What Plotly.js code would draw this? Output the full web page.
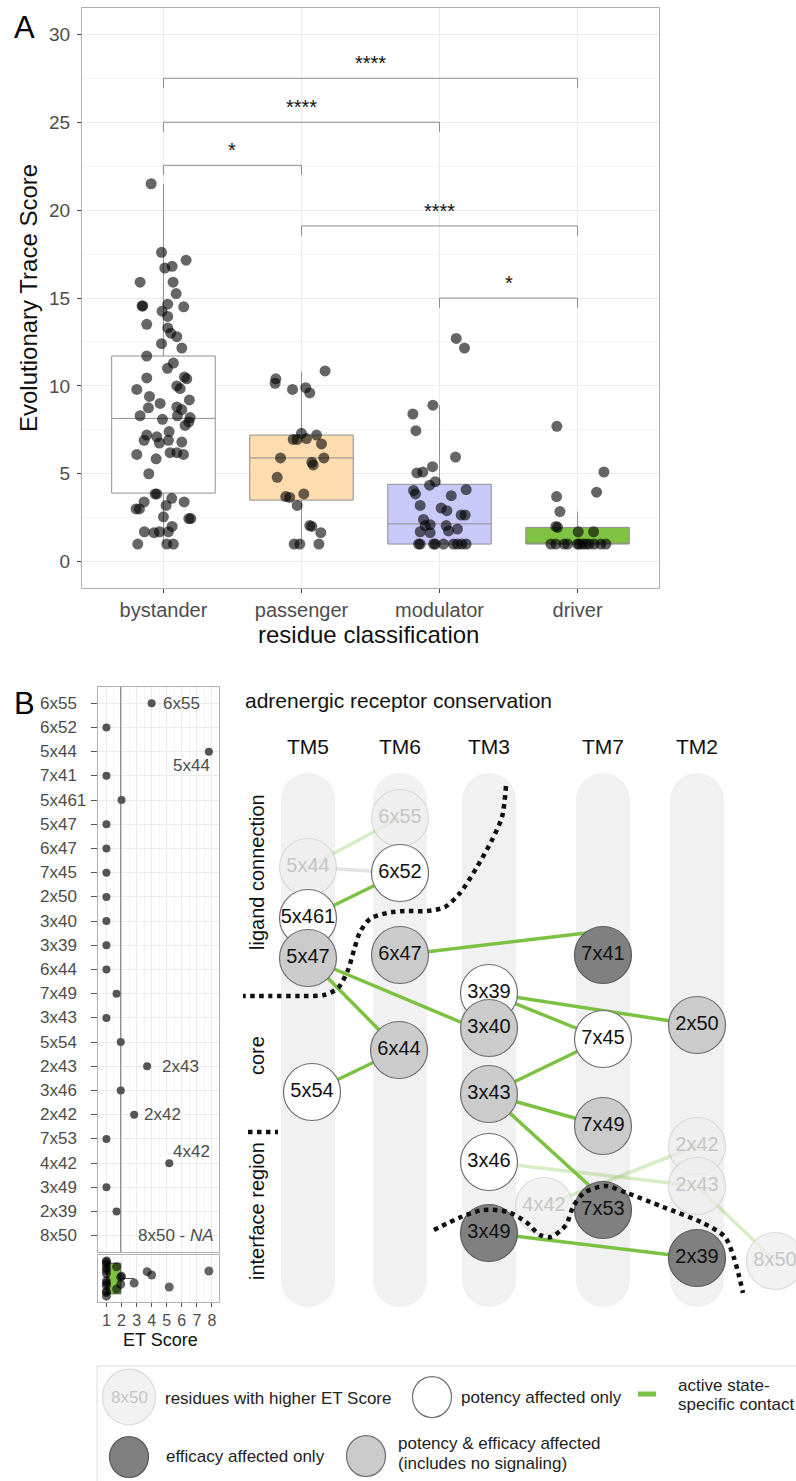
<!DOCTYPE html>
<html><head><meta charset="utf-8">
<script src="https://cdn.plot.ly/plotly-3.0.1.min.js"></script>
<style>html,body{margin:0;padding:0;background:#fff}#chart{width:796px;height:1481px}</style>
</head><body><div id="chart"></div>
<script>
const W = 796, H = 1481;
const FONT = 'Liberation Sans, Arial, Helvetica, sans-serif';

// ---------------- Panel A data ----------------
const CATEGORIES = ['bystander', 'passenger', 'modulator', 'driver'];
const BOX_Q1     = [3.9, 3.5, 1.0, 1.0];
const BOX_MEDIAN = [8.15, 5.9, 2.15, 1.0];
const BOX_Q3     = [11.7, 7.2, 4.4, 1.95];
const BOX_LOWER  = [1.0, 1.0, 1.0, 1.0];
const BOX_UPPER  = [21.5, 10.8, 8.9, 2.85];

const BYSTANDER_ET = [21.5,17.6,17.15,16.7,16.8,15.9,15.9,15.25,14.55,14.55,14.65,14.5,14.25,13.95,13.5,13.3,13.0,12.8,12.4,12.15,11.7,11.3,11.0,10.45,10.5,10.4,10.0,9.85,9.8,9.2,9.4,9.0,8.75,8.8,8.65,8.3,8.1,8.3,8.2,7.95,7.75,7.4,7.2,7.1,6.9,6.9,6.75,6.8,6.1,6.2,6.2,6.1,5.85,5.0,3.85,3.85,3.6,3.4,3.4,3.2,3.0,3.0,2.55,2.45,2.45,1.7,1.65,1.7,2.0,1.7,1.0,1.0,1.0];
const BYSTANDER_JIT = [-0.089,-0.014,0.164,0.010,0.063,-0.169,0.070,0.092,-0.155,-0.150,0.031,0.147,-0.010,0.031,-0.121,0.031,0.053,0.097,-0.014,0.133,-0.121,0.072,0.029,-0.121,0.152,0.169,0.097,0.121,-0.193,0.188,-0.101,-0.024,-0.109,0.097,0.133,-0.169,-0.007,0.101,0.193,0.184,0.157,0.041,-0.121,-0.048,-0.140,0.036,-0.029,0.133,-0.193,0.048,0.097,0.145,-0.053,-0.106,-0.060,-0.048,0.060,-0.140,0.150,0.019,-0.198,-0.174,0.0,0.184,0.198,-0.138,-0.068,-0.029,0.063,0.036,-0.186,0.024,0.072];
const PASSENGER_ET = [10.4,10.15,10.85,9.8,9.9,9.6,7.3,6.95,6.95,7.2,7.0,6.7,5.9,5.9,5.65,5.5,4.8,3.7,3.65,3.85,3.2,2.0,2.05,1.65,1.0,1.0,1.0];
const PASSENGER_JIT = [-0.186,-0.191,0.171,-0.065,0.031,0.060,0.0,-0.060,-0.031,0.109,0.036,0.145,-0.152,0.162,0.075,0.085,-0.176,-0.114,-0.085,0.017,-0.031,0.075,0.060,0.140,-0.053,-0.012,0.126];
const MODULATOR_ET = [12.7,12.15,8.9,8.4,7.45,5.95,5.05,5.1,5.4,4.55,4.35,4.05,4.1,3.75,3.85,3.2,3.05,2.9,2.65,2.65,2.4,2.05,2.05,1.85,1.75,1.7,1.65,2.1,1.0,1.0,1.0,1.0,1.0,1.0,1.0,1.0,1.0];
const MODULATOR_JIT = [0.121,0.181,-0.048,-0.193,-0.171,0.116,-0.164,-0.121,-0.051,-0.031,-0.072,-0.188,0.193,0.085,-0.174,-0.140,0.012,0.053,0.157,0.186,-0.116,-0.104,0.048,0.130,0.065,-0.140,-0.068,-0.068,-0.152,-0.140,-0.043,-0.031,0.029,0.101,0.130,0.162,0.193];
const DRIVER_ET = [7.7,5.1,3.95,3.7,2.85,2.0,1.95,1.7,1.7,1.0,1.0,1.0,1.0,1.0,1.0,1.0,1.0,1.0,1.0,1.0,1.0];
const DRIVER_JIT = [-0.150,0.191,0.138,-0.152,-0.128,-0.157,-0.145,0.005,0.116,-0.193,-0.157,-0.097,-0.072,0.012,0.036,0.060,0.085,0.169,0.205,0.0,0.121];

const BRACKET_FROM  = [0, 0, 0, 1, 2];
const BRACKET_TO    = [1, 2, 3, 3, 3];
const BRACKET_Y     = [22.55, 25.0, 27.5, 19.1, 15.0];
const BRACKET_LABEL = ['*', '****', '****', '****', '*'];

// ---------------- Panel B data ----------------
const ET_RESIDUES = ['6x55','6x52','5x44','7x41','5x461','5x47','6x47','7x45','2x50','3x40','3x39','6x44','7x49','3x43','5x54','2x43','3x46','2x42','7x53','4x42','3x49','2x39','8x50'];
const ET_SCORE    = [4.0,1.0,7.8,1.0,2.0,1.0,1.0,1.0,1.0,1.0,1.0,1.0,1.67,1.0,1.95,3.7,1.95,2.84,1.0,5.17,1.0,1.67,null];
const ET_BOX_JIT  = [0.15,0.7,0.32,-0.6,0.1,0.45,-0.3,0.2,-0.75,0.6,-0.1,0.35,-0.45,-0.55,0.05,0.29,-0.25,-0.19,0.75,-0.36,-0.2,0.5,null];
const ET_CUTOFF = 1.95;
const ET_TICKS = [1,2,3,4,5,6,7,8];
// summary of the ET-score box (same residues as the driver class)
const ET_BOX_STATS = {q1:1.0, median:1.0, q3:1.95, lower:1.0, upper:2.84};

const NODE_RESIDUES = ['6x55','5x44','6x52','5x461','7x41','6x47','5x47','3x39','2x50','3x40','7x45','6x44','5x54','3x43','7x49','2x42','3x46','2x43','4x42','7x53','3x49','2x39','8x50'];
const NODE_CLASS = ['faded','faded','potency','potency','efficacy','both','both','potency','both','both','potency','both','potency','both','both','faded','potency','faded','faded','efficacy','efficacy','efficacy','faded'];
const EDGE_FROM = ['5x44','5x44','5x461','6x47','5x47','5x47','6x44','3x39','3x39','7x45','3x43','3x43','3x46','4x42','2x43','3x49'];
const EDGE_TO   = ['6x55','6x52','6x52','7x41','3x40','6x44','5x54','2x50','7x45','3x43','7x49','7x53','2x43','2x42','8x50','2x39'];
const EDGE_TYPE = ['faded','gray','active','active','active','active','active','active','active','active','active','active','faded','faded','faded','active'];
const TM_LABELS = ['TM5','TM6','TM3','TM7','TM2'];

// ---------------- layout geometry (pixels) ----------------
const TM_X = [308, 400, 489, 603, 697];
const NODE_X = [400,308,400,308,603,400,308,489,697,489,603,399,312,489,603,697,489,697,544,603,489,697,775];
const NODE_Y = [818,867,873,918,955,955,958,993,1025,1028,1039,1050,1092,1094,1126,1146,1162,1186,1206,1210,1233,1258,1261];
const EDGE_END_DY = [0,0,0,-24,6,0,0,0,0,0,0,-12,0,0,0,0];
const DOT1_X = [506,502,492,477,460,445,427,405,387,370,360,354,348,338,324,300,270,243];
const DOT1_Y = [786,817,840,867,893,907,911,911,913,919,932,950,970,988,995,996,996,996];
const DOT2_X = [434,461,483,508,526,540,551,566,573,584,605,627,663,703,725,734,739,743];
const DOT2_Y = [1230,1217,1210,1212,1222,1235,1237,1225,1207,1193,1186,1193,1207,1223,1237,1258,1276,1293];

const GREEN = '#7cc242';
const CLASS_FILL = {faded:'rgba(238,238,238,0.75)', potency:'#ffffff', efficacy:'#808080', both:'#cbcbcb'};
const CLASS_LINE = {faded:'rgba(205,205,205,0.7)', potency:'#6e6e6e', efficacy:'#5a5a5a', both:'#6e6e6e'};
const CLASS_TEXT = {faded:'#c6c6c6', potency:'#111', efficacy:'#111', both:'#111'};
const BOX_FILL = ['#ffffff', '#fddcad', '#c9c9fa', '#80c342'];

const traces = [];
const annotations = [];
const shapes = [];

// ---------- Panel A ----------
CATEGORIES.forEach((c, i) => {
  traces.push({type:'box', x:[i], q1:[BOX_Q1[i]], median:[BOX_MEDIAN[i]], q3:[BOX_Q3[i]],
    lowerfence:[BOX_LOWER[i]], upperfence:[BOX_UPPER[i]], width:0.75, whiskerwidth:0,
    fillcolor:BOX_FILL[i], line:{color:'#8f8f8f', width:1}, boxpoints:false,
    xaxis:'x', yaxis:'y', hoverinfo:'skip'});
});
const groups = [[BYSTANDER_ET,BYSTANDER_JIT],[PASSENGER_ET,PASSENGER_JIT],[MODULATOR_ET,MODULATOR_JIT],[DRIVER_ET,DRIVER_JIT]];
groups.forEach((g, i) => {
  traces.push({type:'scatter', mode:'markers', x:g[1].map(j => i + j), y:g[0],
    marker:{size:11, color:'rgba(0,0,0,0.6)'}, xaxis:'x', yaxis:'y', hoverinfo:'skip'});
});
BRACKET_Y.forEach((h, k) => {
  const a = BRACKET_FROM[k], b = BRACKET_TO[k];
  traces.push({type:'scatter', mode:'lines', x:[a,a,b,b], y:[h-0.55,h,h,h-0.55],
    line:{color:'#8c8c8c', width:1}, xaxis:'x', yaxis:'y', hoverinfo:'skip'});
  annotations.push({xref:'x', yref:'y', x:(a+b)/2, y:h, yshift:15, text:BRACKET_LABEL[k],
    showarrow:false, font:{family:FONT, size:20, color:'#111'}, xanchor:'center', yanchor:'middle'});
});

// ---------- Panel B: ET dot plot ----------
const etIdx = ET_RESIDUES.map((r, i) => i);
traces.push({type:'scatter', mode:'lines', x:[ET_CUTOFF, ET_CUTOFF], y:[-0.7, ET_RESIDUES.length - 0.3],
  line:{color:'#6f6f6f', width:1}, xaxis:'x2', yaxis:'y2', hoverinfo:'skip'});
traces.push({type:'scatter', mode:'markers', x:ET_SCORE, y:etIdx,
  marker:{size:8, color:'#555555'}, xaxis:'x2', yaxis:'y2', hoverinfo:'skip'});
ET_RESIDUES.forEach((r, i) => {
  annotations.push({xref:'x4', yref:'y2', x:38, y:i, text:r, showarrow:false, xanchor:'left', yanchor:'middle',
    font:{family:FONT, size:17, color:'#4d4d4d'}});
});
const labelFont = {family:FONT, size:17, color:'#4d4d4d'};
const lab = (r, opts) => {
  const i = ET_RESIDUES.indexOf(r);
  annotations.push(Object.assign({xref:'x2', yref:'y2', x:ET_SCORE[i], y:i, text:r, showarrow:false,
    yanchor:'middle', font:labelFont}, opts));
};
lab('6x55', {xanchor:'left', xshift:9});
lab('5x44', {xanchor:'right', xshift:3, yshift:-14});
lab('2x43', {xanchor:'left', xshift:13});
lab('2x42', {xanchor:'left', xshift:8});
lab('4x42', {xanchor:'left', xshift:2, yshift:12});
annotations.push({xref:'x2', yref:'y2', x:8.3, y:ET_RESIDUES.indexOf('8x50'), text:'8x50 - <i>NA</i>',
  showarrow:false, xanchor:'right', yanchor:'middle', font:labelFont});

// ---------- Panel B: ET box ----------
const etVals = ET_SCORE.filter(v => v !== null);
const etJit = ET_BOX_JIT.filter(v => v !== null);
traces.push({type:'box', orientation:'h', y:[0], q1:[ET_BOX_STATS.q1], median:[ET_BOX_STATS.median], q3:[ET_BOX_STATS.q3],
  lowerfence:[ET_BOX_STATS.lower], upperfence:[ET_BOX_STATS.upper], width:1.3, whiskerwidth:0, boxpoints:false,
  fillcolor:'#80c342', line:{color:'#555', width:1}, xaxis:'x3', yaxis:'y3', hoverinfo:'skip'});
traces.push({type:'scatter', mode:'markers', x:etVals, y:etJit,
  marker:{size:9, color:'rgba(0,0,0,0.6)'}, xaxis:'x3', yaxis:'y3', hoverinfo:'skip'});

// ---------- Panel B: network ----------
TM_X.forEach((x, i) => {
  const top = 773, bot = 1307, r = 27;
  shapes.push({type:'rect', xref:'x4', yref:'y4', x0:x-r, x1:x+r, y0:top+r, y1:bot-r, fillcolor:'#f1f1f1', line:{width:0}, layer:'below'});
  shapes.push({type:'circle', xref:'x4', yref:'y4', x0:x-r, x1:x+r, y0:top, y1:top+2*r, fillcolor:'#f1f1f1', line:{width:0}, layer:'below'});
  shapes.push({type:'circle', xref:'x4', yref:'y4', x0:x-r, x1:x+r, y0:bot-2*r, y1:bot, fillcolor:'#f1f1f1', line:{width:0}, layer:'below'});
  annotations.push({xref:'x4', yref:'y4', x:x, y:746, text:TM_LABELS[i], showarrow:false,
    font:{family:FONT, size:21, color:'#111'}, xanchor:'center', yanchor:'middle'});
});
const EDGE_COLOR = {active:GREEN, faded:'rgba(124,194,66,0.3)', gray:'#e3e3e3'};
EDGE_FROM.forEach((f, k) => {
  const a = NODE_RESIDUES.indexOf(f), b = NODE_RESIDUES.indexOf(EDGE_TO[k]);
  traces.push({type:'scatter', mode:'lines', x:[NODE_X[a], NODE_X[b]], y:[NODE_Y[a], NODE_Y[b] + EDGE_END_DY[k]],
    line:{color:EDGE_COLOR[EDGE_TYPE[k]], width:3.5}, xaxis:'x4', yaxis:'y4', hoverinfo:'skip'});
});
traces.push({type:'scatter', mode:'markers+text', x:NODE_X, y:NODE_Y, text:NODE_RESIDUES,
  textposition:'middle center',
  textfont:{family:FONT, size:20, color:NODE_CLASS.map(c => CLASS_TEXT[c])},
  marker:{size:57, color:NODE_CLASS.map(c => CLASS_FILL[c]), line:{width:1.2, color:NODE_CLASS.map(c => CLASS_LINE[c])}},
  xaxis:'x4', yaxis:'y4', hoverinfo:'skip', cliponaxis:false});
[[DOT1_X, DOT1_Y], [DOT2_X, DOT2_Y], [[248, 278], [1132, 1132]]].forEach(d => {
  traces.push({type:'scatter', mode:'lines', x:d[0], y:d[1],
    line:{color:'#111', width:4.5, dash:'dot', shape:'spline', smoothing:0.8},
    xaxis:'x4', yaxis:'y4', hoverinfo:'skip'});
});
annotations.push({xref:'x4', yref:'y4', x:243, y:700, text:'adrenergic receptor conservation', showarrow:false,
  xanchor:'left', yanchor:'middle', font:{family:FONT, size:21, color:'#111'}});
[['ligand connection', 872], ['core', 1056], ['interface region', 1211]].forEach(s => {
  annotations.push({xref:'x4', yref:'y4', x:257, y:s[1], text:s[0], textangle:-90, showarrow:false,
    xanchor:'center', yanchor:'middle', font:{family:FONT, size:20, color:'#111'}});
});

// ---------- Legend ----------
shapes.push({type:'rect', xref:'x4', yref:'y4', x0:97, x1:805, y0:1366, y1:1495, line:{color:'#dcdcdc', width:1}, fillcolor:'rgba(0,0,0,0)', layer:'below'});
const circ = (cx, cy, r, fill, line) => shapes.push({type:'circle', xref:'x4', yref:'y4', x0:cx-r, x1:cx+r, y0:cy-r*1.05, y1:cy+r*1.05, fillcolor:fill, line:{color:line, width:1.2}, layer:'above'});
circ(129, 1397, 26.5, CLASS_FILL.faded, CLASS_LINE.faded);
circ(432, 1397, 19.5, CLASS_FILL.potency, CLASS_LINE.potency);
circ(129, 1457, 19.5, CLASS_FILL.efficacy, CLASS_LINE.efficacy);
circ(366, 1456, 19.5, CLASS_FILL.both, CLASS_LINE.both);
shapes.push({type:'line', xref:'x4', yref:'y4', x0:638, x1:656, y0:1394, y1:1394, line:{color:GREEN, width:5}, layer:'above'});
const legTxt = (x, y, t, col) => annotations.push({xref:'x4', yref:'y4', x:x, y:y, text:t, showarrow:false,
  xanchor:'left', yanchor:'middle', font:{family:FONT, size:17, color:col || '#222'}});
annotations.push({xref:'x4', yref:'y4', x:129, y:1397, text:'8x50', showarrow:false, xanchor:'center', yanchor:'middle',
  font:{family:FONT, size:17, color:'#c6c6c6'}});
legTxt(163, 1398, 'residues with higher ET Score');
legTxt(459, 1397, 'potency affected only');
legTxt(676, 1385, 'active state-');
legTxt(676, 1404, 'specific contact');
legTxt(164, 1456, 'efficacy affected only');
legTxt(396, 1443, 'potency &amp; efficacy affected');
legTxt(396, 1463, '(includes no signaling)');

// ---------- titles & panel letters ----------
annotations.push({xref:'x4', yref:'y4', x:12, y:27, text:'A', showarrow:false, xanchor:'left', yanchor:'middle', font:{family:FONT, size:31, color:'#000'}});
annotations.push({xref:'x4', yref:'y4', x:12, y:703, text:'B', showarrow:false, xanchor:'left', yanchor:'middle', font:{family:FONT, size:31, color:'#000'}});
annotations.push({xref:'x4', yref:'y4', x:28, y:298, text:'Evolutionary Trace Score', textangle:-90, showarrow:false, xanchor:'center', yanchor:'middle', font:{family:FONT, size:24, color:'#111'}});
annotations.push({xref:'x4', yref:'y4', x:368, y:634, text:'residue classification', showarrow:false, xanchor:'center', yanchor:'middle', font:{family:FONT, size:24, color:'#111'}});
annotations.push({xref:'x4', yref:'y4', x:160, y:1340, text:'ET Score', showarrow:false, xanchor:'center', yanchor:'middle', font:{family:FONT, size:18, color:'#111'}});

const dom = (a, b) => [a / W, b / W];
const vdom = (top, bot) => [1 - bot / H, 1 - top / H];
const frame = {showline:true, mirror:true, linecolor:'#b0b0b0', linewidth:1, zeroline:false, fixedrange:true};

const layout = {
  width:W, height:H, margin:{l:0, r:0, t:0, b:0}, showlegend:false,
  paper_bgcolor:'#ffffff', plot_bgcolor:'rgba(0,0,0,0)', font:{family:FONT},
  xaxis: Object.assign({}, frame, {domain:dom(82, 659), anchor:'y', range:[-0.59, 3.59],
    tickvals:[0,1,2,3], ticktext:CATEGORIES, showgrid:true, gridcolor:'#ebebeb',
    ticks:'outside', ticklen:4, tickcolor:'#444', tickfont:{family:FONT, size:20, color:'#4d4d4d'}}),
  yaxis: Object.assign({}, frame, {domain:vdom(8, 588), anchor:'x', range:[-1.5, 31.5], tick0:0, dtick:5,
    showgrid:true, gridcolor:'#ebebeb', minor:{dtick:2.5, showgrid:true, gridcolor:'#f6f6f6'},
    ticks:'outside', ticklen:4, tickcolor:'#444', ticklabelstandoff:3, tickfont:{family:FONT, size:19, color:'#4d4d4d'}}),
  xaxis2: Object.assign({}, frame, {domain:dom(98, 219), anchor:'y2', range:[0.44, 8.47], tick0:0, dtick:1,
    showticklabels:false, showgrid:true, gridcolor:'#ebebeb', minor:{dtick:0.5, showgrid:true, gridcolor:'#f4f4f4'}}),
  yaxis2: Object.assign({}, frame, {domain:vdom(687, 1252), anchor:'x2', range:[ET_RESIDUES.length - 0.33, -0.67],
    tickvals:etIdx, showticklabels:false, showgrid:true, gridcolor:'#ebebeb', ticks:'outside', ticklen:6, tickcolor:'#555'}),
  xaxis3: Object.assign({}, frame, {domain:dom(98, 219), anchor:'y3', range:[0.44, 8.47], tickvals:ET_TICKS,
    showgrid:true, gridcolor:'#ebebeb', minor:{dtick:0.5, showgrid:true, gridcolor:'#f4f4f4'},
    ticks:'outside', ticklen:4, tickcolor:'#555', tickfont:{family:FONT, size:16, color:'#4d4d4d'}}),
  yaxis3: Object.assign({}, frame, {domain:vdom(1255, 1302), anchor:'x3', range:[-1, 1], showticklabels:false, showgrid:false}),
  xaxis4: {domain:[0,1], anchor:'y4', range:[0, W], visible:false, fixedrange:true},
  yaxis4: {domain:[0,1], anchor:'x4', range:[H, 0], visible:false, fixedrange:true},
  annotations:annotations, shapes:shapes
};
Plotly.newPlot('chart', traces, layout, {staticPlot:true, displayModeBar:false});
</script>
</body></html>
